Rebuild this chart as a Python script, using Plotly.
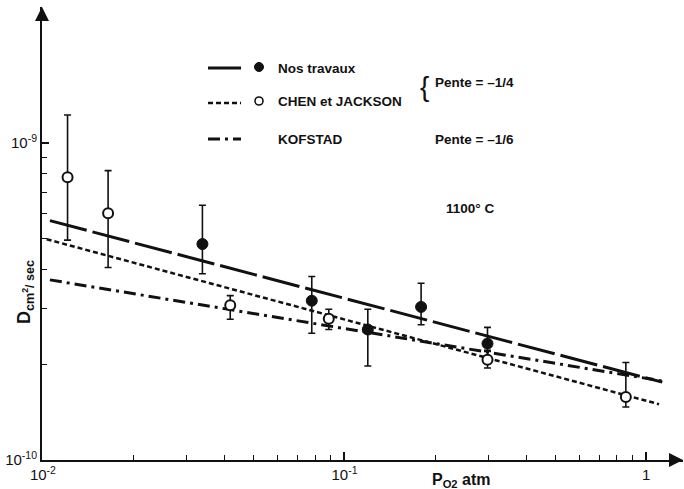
import plotly.graph_objects as go

# ---- data ----
# Nos travaux (filled circles)
nos_p = [0.0338, 0.0779, 0.1195, 0.1795, 0.298]
nos_d = [4.80e-10, 3.18e-10, 2.58e-10, 3.04e-10, 2.33e-10]
nos_hi = [6.36e-10, 3.79e-10, 2.99e-10, 3.61e-10, 2.62e-10]
nos_lo = [3.87e-10, 2.51e-10, 1.98e-10, 2.67e-10, 2.22e-10]

# CHEN et JACKSON (open circles)
chen_p = [0.01207, 0.01645, 0.0418, 0.0887, 0.298, 0.857]
chen_d = [7.80e-10, 6.00e-10, 3.08e-10, 2.79e-10, 2.07e-10, 1.58e-10]
chen_hi = [1.226e-9, 8.18e-10, 3.30e-10, 2.99e-10, 2.20e-10, 2.03e-10]
chen_lo = [4.94e-10, 4.05e-10, 2.78e-10, 2.58e-10, 1.95e-10, 1.47e-10]

# fitted lines (end points)
fit_nos_p = [0.01055, 1.132]
fit_nos_d = [5.69e-10, 1.76e-10]
fit_chen_p = [0.01029, 1.104]
fit_chen_d = [4.97e-10, 1.50e-10]
fit_kof_p = [0.01055, 1.132]
fit_kof_d = [3.70e-10, 1.775e-10]

x_major = [0.01, 0.1, 1]
x_major_text = ["10<sup>-2</sup>", "10<sup>-1</sup>", "1"]
x_minor = [k * 0.01 for k in range(2, 10)] + [k * 0.1 for k in range(2, 10)]
y_major = [1e-10, 1e-9]
y_major_text = ["10<sup>-10</sup>", "10<sup>-9</sup>"]
y_minor = [k * 1e-10 for k in range(2, 10)]

FONT = "Liberation Sans, Arial, sans-serif"
BLACK = "#111111"

fig = go.Figure()

fig.add_trace(go.Scatter(x=fit_nos_p, y=fit_nos_d, mode="lines",
                         line=dict(color=BLACK, width=3, dash="38px,6px"),
                         showlegend=False, hoverinfo="skip"))
fig.add_trace(go.Scatter(x=fit_chen_p, y=fit_chen_d, mode="lines",
                         line=dict(color=BLACK, width=2.5, dash="5px,3px"),
                         showlegend=False, hoverinfo="skip"))
fig.add_trace(go.Scatter(x=fit_kof_p, y=fit_kof_d, mode="lines",
                         line=dict(color=BLACK, width=3, dash="12px,5px,3px,5px"),
                         showlegend=False, hoverinfo="skip"))

fig.add_trace(go.Scatter(
    x=nos_p, y=nos_d, mode="markers",
    marker=dict(symbol="circle", size=11, color=BLACK, line=dict(color=BLACK, width=1)),
    error_y=dict(type="data", symmetric=False,
                 array=[h - d for h, d in zip(nos_hi, nos_d)],
                 arrayminus=[d - l for d, l in zip(nos_d, nos_lo)],
                 color=BLACK, thickness=1.6, width=3.5),
    showlegend=False))
fig.add_trace(go.Scatter(
    x=chen_p, y=chen_d, mode="markers",
    marker=dict(symbol="circle", size=10, color="white", line=dict(color=BLACK, width=2)),
    error_y=dict(type="data", symmetric=False,
                 array=[h - d for h, d in zip(chen_hi, chen_d)],
                 arrayminus=[d - l for d, l in zip(chen_d, chen_lo)],
                 color=BLACK, thickness=1.6, width=3.5),
    showlegend=False))

# ---- legend drawn by hand (paper coordinates from pixels) ----
L, T, W, H = 42, 7, 641, 453


def px(xp):
    return (xp - L) / W


def py(yp):
    return (T + H - yp) / H


shapes = []
legend_rows = [(68, "38px,6px", 3), (103, "5px,3px", 2.5), (139, "12px,5px,3px,5px", 3)]
for yy, dash, w in legend_rows:
    shapes.append(dict(type="line", xref="paper", yref="paper",
                       x0=px(208), x1=px(241), y0=py(yy), y1=py(yy),
                       line=dict(color=BLACK, width=w, dash=dash)))
# legend symbols
r = 4.5
shapes.append(dict(type="circle", xref="paper", yref="paper",
                   x0=px(259 - r), x1=px(259 + r), y0=py(67 + r), y1=py(67 - r),
                   fillcolor=BLACK, line=dict(color=BLACK, width=1)))
shapes.append(dict(type="circle", xref="paper", yref="paper",
                   x0=px(259 - 4), x1=px(259 + 4), y0=py(101 + 4), y1=py(101 - 4),
                   fillcolor="white", line=dict(color=BLACK, width=1.6)))

annotations = []


def txt(x, y, s, size=13.5, bold=True, xanchor="left", family=FONT):
    annotations.append(dict(xref="paper", yref="paper", x=px(x), y=py(y), text=s,
                            showarrow=False, xanchor=xanchor, yanchor="middle",
                            font=dict(family=family, size=size, color=BLACK,
                                      weight="bold" if bold else "normal")))


txt(276, 68, "Nos travaux")
txt(276, 102, "CHEN et JACKSON")
txt(276, 140, "KOFSTAD")
txt(424, 86, "{", size=28, bold=False, xanchor="center")
txt(433, 83, "Pente = \u20131/4")
txt(433, 140, "Pente = \u20131/6")
txt(444, 208, "1100\u00b0 C")

# axis titles
txt(430, 480, "P<sub>O2</sub> atm", size=16)
annotations.append(dict(xref="paper", yref="paper", x=px(25), y=py(292),
                        text="D<sub>cm<sup>2</sup>/ sec</sub>", showarrow=False,
                        textangle=-90, xanchor="center", yanchor="middle",
                        font=dict(family=FONT, size=18, color=BLACK, weight="bold")))

# axis arrowheads
annotations.append(dict(xref="paper", yref="paper", x=1, y=0, ax=-14, ay=0,
                        showarrow=True, arrowhead=2, arrowsize=1.4, arrowwidth=2,
                        arrowcolor=BLACK, text=""))
annotations.append(dict(xref="paper", yref="paper", x=0, y=1, ax=0, ay=14,
                        showarrow=True, arrowhead=2, arrowsize=1.4, arrowwidth=2,
                        arrowcolor=BLACK, text=""))

fig.update_layout(
    width=684, height=489,
    margin=dict(l=L, r=684 - L - W, t=T, b=489 - T - H),
    paper_bgcolor="white", plot_bgcolor="white",
    font=dict(family=FONT, size=12, color=BLACK),
    shapes=shapes, annotations=annotations,
    xaxis=dict(type="log", range=[-2.003, 0.1225],
               showline=True, linecolor=BLACK, linewidth=2,
               showgrid=False, zeroline=False,
               ticks="inside", ticklen=8, tickwidth=1.5, tickcolor=BLACK,
               tickvals=x_major, ticktext=x_major_text,
               tickfont=dict(family=FONT, size=15, color=BLACK),
               minor=dict(tickvals=x_minor, ticks="inside", ticklen=5,
                          tickwidth=1.2, tickcolor=BLACK, showgrid=False)),
    yaxis=dict(type="log", range=[-10, -8.571],
               showline=True, linecolor=BLACK, linewidth=2,
               showgrid=False, zeroline=False,
               ticks="inside", ticklen=7, tickwidth=1.5, tickcolor=BLACK,
               tickvals=y_major, ticktext=y_major_text,
               tickfont=dict(family=FONT, size=15, color=BLACK),
               minor=dict(tickvals=y_minor, ticks="inside", ticklen=5,
                          tickwidth=1.2, tickcolor=BLACK, showgrid=False)),
)

fig.write_html("out.html")
